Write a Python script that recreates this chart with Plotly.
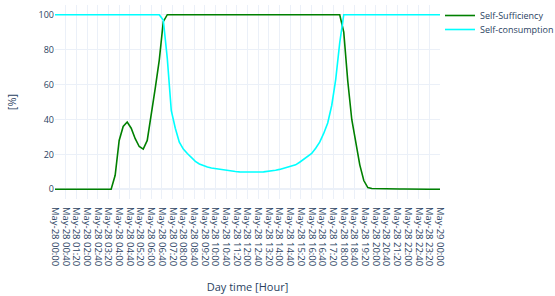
import pandas as pd
import plotly.graph_objects as go

# 15-minute samples for May-28 00:00 .. May-29 00:00
start_time = "2023-05-28 00:00"
n_points = 97

self_sufficiency = [
    0, 0, 0, 0, 0, 0, 0, 0, 0, 0, 0, 0, 0, 0,          # 00:00 - 03:15
    0, 8, 28, 36, 38.5, 35, 29, 24.5, 23, 28,          # 03:30 - 05:45
    42, 58, 74, 96,                                    # 06:00 - 06:45
    100, 100, 100, 100, 100, 100, 100, 100, 100, 100,  # 07:00 - 09:15
    100, 100, 100, 100, 100, 100, 100, 100, 100, 100,  # 09:30 - 11:45
    100, 100, 100, 100, 100, 100, 100, 100, 100, 100,  # 12:00 - 14:15
    100, 100, 100, 100, 100, 100, 100, 100, 100, 100,  # 14:30 - 16:45
    100, 100, 100, 100,                                # 17:00 - 17:45
    90, 62, 40, 26, 14, 5, 1, 0.5,                     # 18:00 - 19:45
    0.4, 0.4, 0.3, 0.3, 0.3, 0.2, 0.2, 0.2,            # 20:00 - 21:45
    0.1, 0.1, 0.1, 0.1, 0.1, 0, 0, 0, 0,               # 22:00 - 24:00
]

self_consumption = [
    100, 100, 100, 100, 100, 100, 100, 100, 100, 100,  # 00:00 - 02:15
    100, 100, 100, 100, 100, 100, 100, 100, 100, 100,  # 02:30 - 04:45
    100, 100, 100, 100, 100, 100, 100,                 # 05:00 - 06:30
    97, 75, 45, 35, 27, 23, 20.5, 18, 16, 14.5,        # 06:45 - 09:00
    13.5, 12.8, 12.2, 11.8, 11.4, 11, 10.7, 10.4,      # 09:15 - 11:00
    10.2, 10, 9.9, 9.8, 9.8, 9.8, 9.9, 10, 10.2, 10.5, # 11:15 - 13:30
    10.9, 11.4, 12, 12.7, 13.5, 14, 15.5, 17, 19,      # 13:45 - 15:45
    20.5, 23.5, 27, 32, 38, 48, 63, 84,                # 16:00 - 17:45
    100, 100, 100, 100, 100, 100, 100, 100, 100, 100,  # 18:00 - 20:15
    100, 100, 100, 100, 100, 100, 100, 100, 100, 100,  # 20:30 - 22:45
    100, 100, 100, 100, 100,                           # 23:00 - 24:00
]

times = pd.date_range(start_time, periods=n_points, freq="15min")

fig = go.Figure()
fig.add_trace(go.Scatter(x=times, y=self_sufficiency, mode="lines",
                         name="Self-Sufficiency", legend="legend",
                         showlegend=True,
                         line=dict(color="green", width=1.6)))
fig.add_trace(go.Scatter(x=times, y=self_consumption, mode="lines",
                         name="Self-consumption", legend="legend2",
                         showlegend=True,
                         line=dict(color="cyan", width=1.6)))

legend_style = dict(font=dict(size=9), bgcolor="rgba(0,0,0,0)",
                    xanchor="left", yanchor="top")

fig.update_layout(
    template="plotly_white",
    width=555, height=296,
    showlegend=True,
    margin=dict(l=55, r=115, t=5, b=97, autoexpand=False),
    font=dict(family="Open Sans", size=9, color="#2a3f5f"),
    legend=dict(legend_style, x=1.0, y=1.0 + 4 / 194),
    legend2=dict(legend_style, x=1.0, y=1.0 - 10 / 194, visible=True),
    xaxis=dict(
        title=dict(text="Day time [Hour]", font=dict(size=11), standoff=18),
        tick0=start_time,
        dtick=40 * 60 * 1000,
        tickformat="%b-%d %H:%M",
        tickangle=90,
        tickfont=dict(size=9.5),
        ticklabelstandoff=7,
        automargin=False,
    ),
    yaxis=dict(
        title=dict(text="[%]", font=dict(size=11), standoff=19),
        automargin=False,
    ),
)

page_fix = (
    "document.body.style.margin='0px';"
    "document.body.style.overflow='hidden';"
    "var gd=document.getElementById('{plot_id}');"
    "Plotly.relayout(gd, {width: 555, height: 296});"
)

fig.write_html("out.html", post_script=page_fix,
               config={"displayModeBar": False, "responsive": False})
